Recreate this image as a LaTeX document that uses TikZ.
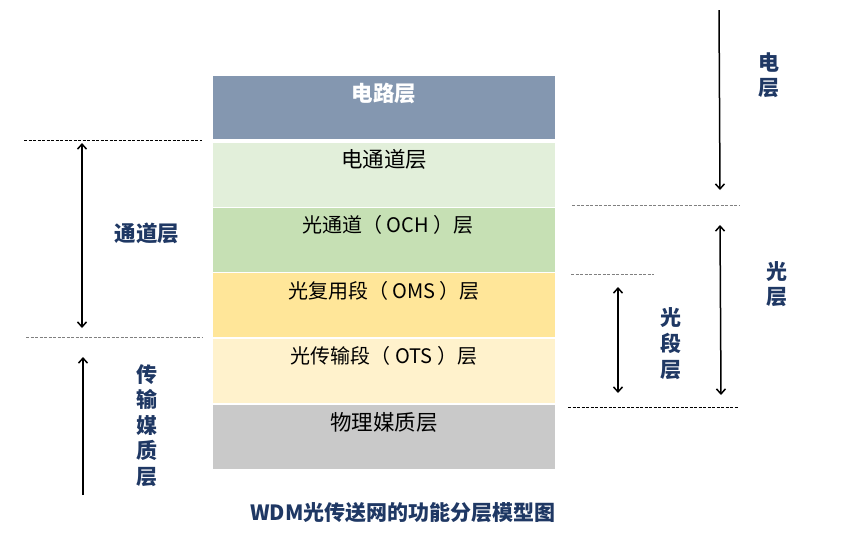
\documentclass[tikz,border=0pt]{standalone}
\usepackage{fontspec}
\newfontfamily\cjk{Noto Sans CJK SC}
\usetikzlibrary{arrows.meta}
\definecolor{navy}{HTML}{1F3864}
\definecolor{cblue}{HTML}{8497B0}
\definecolor{cgreenA}{HTML}{E2EFDA}
\definecolor{cgreenB}{HTML}{C6E0B4}
\definecolor{cyelA}{HTML}{FFE699}
\definecolor{cyelB}{HTML}{FFF2CC}
\definecolor{cgrey}{HTML}{C9C9C9}
\tikzset{
  layer/.style={minimum width=342pt, anchor=north west, inner sep=0pt},
  ltext/.style={font=\cjk\fontsize{21.5}{24}\selectfont, text=black, anchor=center},
  stext/.style={font=\cjk\fontsize{20}{24}\selectfont, text=black, anchor=center},
  blab/.style={font=\cjk\bfseries\fontsize{21.5}{24}\selectfont, text=navy, anchor=center, inner sep=0pt},
  guide/.style={dashed, dash pattern=on 3pt off 1.5pt, line width=0.9pt, gray},
  darr/.style={line width=1.5pt, {Straight Barb[length=5pt,width=9pt]}-{Straight Barb[length=5pt,width=9pt]}},
  sarr/.style={line width=1.5pt, -{Straight Barb[length=5pt,width=9pt]}}
}
\begin{document}
\begin{tikzpicture}[x=1pt,y=-1pt]
\useasboundingbox (0,0) rectangle (845,547);
% layers
\node[layer, fill=cblue, minimum height=63pt] (L0) at (213,76) {};
\node[layer, fill=cgreenA, minimum height=64pt] (L1) at (213,143) {};
\node[layer, fill=cgreenB, minimum height=64pt] (L2) at (213,208) {};
\node[layer, fill=cyelA, minimum height=64pt] (L3) at (213,273) {};
\node[layer, fill=cyelB, minimum height=64pt] (L4) at (213,339) {};
\node[layer, fill=cgrey, minimum height=64pt] (L5) at (213,405) {};
\node[font=\cjk\bfseries\fontsize{21.5}{24}\selectfont, text=white] (T0) at (384,93) {电路层};
\node[ltext] (T1) at (384,159) {电通道层};
\node[stext] (T2) at (388,225) {光通道（ OCH ）层};
\node[stext] (T3) at (384,291) {光复用段（ OMS ）层};
\node[stext] (T4) at (384,356) {光传输段（ OTS ）层};
\node[ltext] (T5) at (384,422) {物理媒质层};
% left guides
\coordinate (g1a) at (24,140); \coordinate (g1b) at (202,140);
\coordinate (g2a) at (26,337); \coordinate (g2b) at (202,337);
\draw[guide, black] (g1a) -- (g1b);
\draw[guide] (g2a) -- (g2b);
\coordinate (a1t) at (82,143); \coordinate (a1b) at (82,328);
\draw[darr] (a1t) -- (a1b);
\coordinate (a2b) at (83,495); \coordinate (a2t) at (83,357);
\draw[sarr] (a2b) -- (a2t);
\node[blab] (tdc) at (147,233) {通道层};
\node[blab, align=center, font=\cjk\bfseries\fontsize{21}{25.6}\selectfont] (csm) at (147,425.5) {传\\输\\媒\\质\\层};
% right guides
\coordinate (r1a) at (572,205); \coordinate (r1b) at (739,205);
\coordinate (r2a) at (571,274); \coordinate (r2b) at (654,274);
\coordinate (r3a) at (568,407); \coordinate (r3b) at (739,407);
\draw[guide] (r1a) -- (r1b);
\draw[guide] (r2a) -- (r2b);
\draw[guide, black] (r3a) -- (r3b);
\coordinate (e1) at (719,10); \coordinate (e2) at (720,190);
\draw[sarr] (e1) -- (e2);
\coordinate (o1) at (720,225); \coordinate (o2) at (721,395);
\draw[darr] (o1) -- (o2);
\coordinate (s1) at (618,287); \coordinate (s2) at (618,393);
\draw[darr] (s1) -- (s2);
\node[blab, align=center, font=\cjk\bfseries\fontsize{21}{25}\selectfont] (dian) at (769,75.5) {电\\层};
\node[blab, align=center, font=\cjk\bfseries\fontsize{21}{25}\selectfont] (guang) at (777,284.5) {光\\层};
\node[blab, align=center, font=\cjk\bfseries\fontsize{21}{26}\selectfont] (gd) at (671,344) {光\\段\\层};
% title
\node[blab, font=\cjk\bfseries\fontsize{21}{24}\selectfont] (title) at (403,513) {WDM光传送网的功能分层模型图};
\end{tikzpicture}
\end{document}
